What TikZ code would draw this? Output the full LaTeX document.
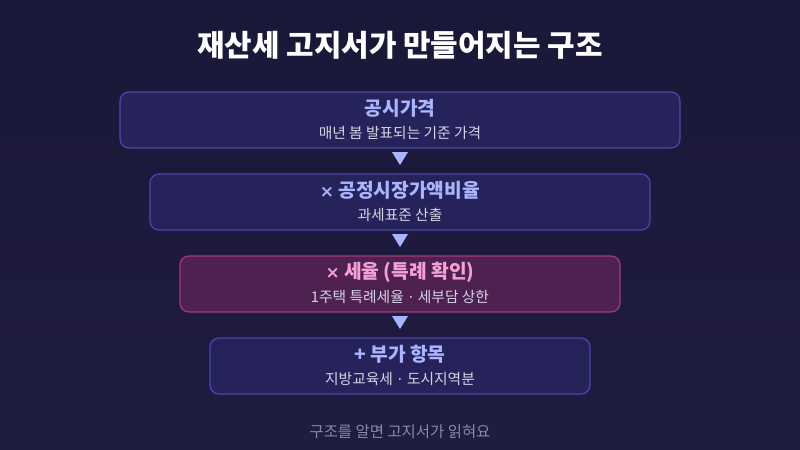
\documentclass[tikz,border=0pt]{standalone}
\usepackage{fontspec}
\setmainfont{Noto Sans CJK KR}
\newfontfamily\latf{DejaVu Sans}
\usetikzlibrary{shapes.geometric}
\definecolor{bgA}{HTML}{1A1838}
\definecolor{bgB}{HTML}{1F1C42}
\definecolor{boxfill}{HTML}{25235A}
\definecolor{boxline}{HTML}{4A48A8}
\definecolor{pinkfill}{HTML}{4E2150}
\definecolor{pinkline}{HTML}{A03C80}
\definecolor{ttlblue}{HTML}{AAB4FF}
\definecolor{ttlpink}{HTML}{F4A2D6}
\definecolor{subtxt}{HTML}{D4D4E6}
\definecolor{foot}{HTML}{8A88AA}
\definecolor{arr}{HTML}{A8B4FF}
\newcommand{\tms}{{\latf\bfseries\fontsize{17}{18}\selectfont ×}}
\newcommand{\mdot}{{\latf\ ·\ }}
\tikzset{
  stepbox/.style={draw=boxline, fill=boxfill, line width=1.2bp, rounded corners=9bp},
  pinkbox/.style={draw=pinkline, fill=pinkfill, line width=1.2bp, rounded corners=9bp},
  btitle/.style={font=\fontsize{19.3}{22}\selectfont\bfseries, text=ttlblue, inner sep=0},
  ptitle/.style={font=\fontsize{19.3}{22}\selectfont\bfseries, text=ttlpink, inner sep=0},
  bsub/.style={font=\fontsize{14.8}{17}\selectfont, text=subtxt, inner sep=0},
  tri/.style={isosceles triangle, isosceles triangle stretches, shape border rotate=-90, fill=arr, inner sep=0, minimum width=16bp, minimum height=13bp},
}
\begin{document}
\begin{tikzpicture}[x=1bp,y=-1bp]
\shade[top color=bgA, bottom color=bgB] (0,0) rectangle (800,450);
\useasboundingbox (0,0) rectangle (800,450);
\node[font=\fontsize{30}{34}\selectfont\bfseries, text=white] (title) at (400,45) {재산세 고지서가 만들어지는 구조};

\draw[stepbox] (120,92) rectangle (680,148);
\node[btitle] (t1) at (400,108) {공시가격};
\node[bsub] (s1) at (400,133) {매년 봄 발표되는 기준 가격};

\draw[stepbox] (150,174) rectangle (650,230);
\node[btitle] (t2) at (400,190) {\tms\ 공정시장가액비율};
\node[bsub] (s2) at (400,215) {과세표준 산출};

\draw[pinkbox] (180,256) rectangle (620,312);
\node[ptitle] (t3) at (400,272) {\tms\ 세율 (특례 확인)};
\node[bsub] (s3) at (400,297) {1주택 특례세율\mdot 세부담 상한};

\draw[stepbox] (210,338) rectangle (590,394);
\node[btitle] (t4) at (400,354) {+ 부가 항목};
\node[bsub] (s4) at (400,379) {지방교육세\mdot 도시지역분};

\node[tri] (a1) at (400,156.5) {};
\node[tri] (a2) at (400,238.5) {};
\node[tri] (a3) at (400,320.5) {};

\node[font=\fontsize{15.5}{18}\selectfont, text=foot] (foot) at (400,432) {구조를 알면 고지서가 읽혀요};
\end{tikzpicture}
\end{document}
